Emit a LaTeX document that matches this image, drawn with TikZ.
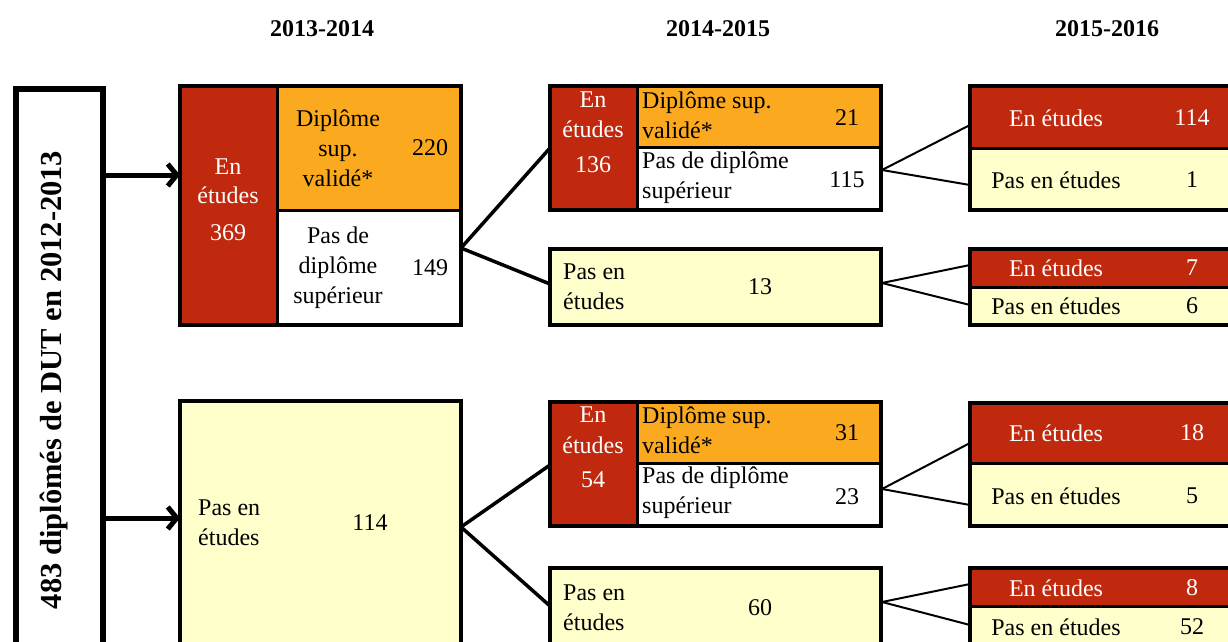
\documentclass[tikz,border=0pt]{standalone}
\usepackage{fontspec}
\setmainfont{Liberation Serif}
\usetikzlibrary{arrows.meta}
\definecolor{cred}{RGB}{192,41,14}
\definecolor{corange}{RGB}{251,170,31}
\definecolor{cyellow}{RGB}{255,255,204}
\begin{document}
\begin{tikzpicture}[x=1pt,y=-1pt,
  cell/.style={draw, line width=3pt, anchor=north west, inner sep=0pt, outer sep=0pt},
  frame/.style={draw, line width=4pt},
  txt/.style={inner sep=0pt, font=\fontsize{24}{30}\selectfont, align=center},
  ltxt/.style={txt, anchor=west, align=left},
  wtxt/.style={txt, text=white},
  hdr/.style={inner sep=0pt, font=\bfseries\fontsize{24}{28}\selectfont},
  arr/.style={line width=5pt, -{Straight Barb[length=9pt,width=22pt]}},
  fanA/.style={line width=3.5pt},
  fanB/.style={line width=2pt}]
\path[use as bounding box] (0,0) rectangle (1228,642);
\clip (0,0) rectangle (1228,642);

% headers
\node[hdr] (h1) at (322,29) {2013-2014};
\node[hdr] (h2) at (718,29) {2014-2015};
\node[hdr] (h3) at (1107,29) {2015-2016};

% left box
\node[draw, line width=6pt, anchor=north west, minimum width=87pt, minimum height=640pt, inner sep=0pt] (L) at (13,86) {};
\node[inner sep=0pt, rotate=90, font=\bfseries\fontsize{30.5}{34}\selectfont] (Lt) at (54,380) {483 diplômés de DUT en 2012-2013};

% ---- 2013-2014 top : A
\node[cell, fill=cred, minimum width=97pt, minimum height=239pt] (Ar) at (180,86) {};
\node[cell, fill=corange, minimum width=184pt, minimum height=124pt] (Ao) at (277,86) {};
\node[cell, fill=white, minimum width=184pt, minimum height=115pt] (Aw) at (277,210) {};
\draw[frame] (Ar.north west) rectangle (Aw.south east);
\node[wtxt] (Ar1) at (228,167) {En};
\node[wtxt] (Ar2) at (228,195) {études};
\node[wtxt] (Ar3) at (228,233) {369};
\node[txt] (Ao1) at (338,148) {Diplôme\\sup.\\validé*};
\node[txt] (Ao2) at (430,148) {220};
\node[txt] (Aw1) at (338,268) {Pas de\\diplôme\\supérieur};
\node[txt] (Aw2) at (430,268) {149};

% ---- 2013-2014 bottom : D
\node[cell, fill=cyellow, minimum width=281pt, minimum height=320pt] (D) at (180,401) {};
\draw[frame] (D.north west) rectangle (D.south east);
\node[ltxt] (D1) at (198,523) {Pas en\\études};
\node[txt] (D2) at (370,523) {114};

% ---- 2014-2015 : B1
\node[cell, fill=cred, minimum width=87pt, minimum height=124pt] (B1r) at (550,86) {};
\node[cell, fill=corange, minimum width=244pt, minimum height=61pt] (B1o) at (637,86) {};
\node[cell, fill=white, minimum width=244pt, minimum height=63pt] (B1w) at (637,147) {};
\draw[frame] (B1r.north west) rectangle (B1w.south east);
\node[wtxt] (B1r1) at (593,100) {En};
\node[wtxt] (B1r2) at (593,129) {études};
\node[wtxt] (B1r3) at (593,165) {136};
\node[ltxt] (B1o1) at (642,115) {Diplôme sup.\\validé*};
\node[txt] (B1o2) at (847,118) {21};
\node[ltxt] (B1w1) at (642,178) {Pas de diplôme\\supérieur};
\node[txt] (B1w2) at (847,180) {115};

% B2
\node[cell, fill=cyellow, minimum width=331pt, minimum height=76pt] (B2) at (550,249) {};
\draw[frame] (B2.north west) rectangle (B2.south east);
\node[ltxt] (B21) at (563,287) {Pas en\\études};
\node[txt] (B22) at (760,287) {13};

% E1
\node[cell, fill=cred, minimum width=87pt, minimum height=124pt] (E1r) at (550,402) {};
\node[cell, fill=corange, minimum width=244pt, minimum height=61pt] (E1o) at (637,402) {};
\node[cell, fill=white, minimum width=244pt, minimum height=63pt] (E1w) at (637,463) {};
\draw[frame] (E1r.north west) rectangle (E1w.south east);
\node[wtxt] (E1r1) at (593,415) {En};
\node[wtxt] (E1r2) at (593,445) {études};
\node[wtxt] (E1r3) at (593,480) {54};
\node[ltxt] (E1o1) at (642,430) {Diplôme sup.\\validé*};
\node[txt] (E1o2) at (847,433) {31};
\node[ltxt] (E1w1) at (642,493) {Pas de diplôme\\supérieur};
\node[txt] (E1w2) at (847,497) {23};

% E2
\node[cell, fill=cyellow, minimum width=331pt, minimum height=140pt] (E2) at (550,568) {};
\draw[frame] (E2.north west) rectangle (E2.south east);
\node[ltxt] (E21) at (563,608) {Pas en\\études};
\node[txt] (E22) at (760,608) {60};

% ---- 2015-2016 : C1, C2, F1, F2
\node[cell, fill=cred, minimum width=280pt, minimum height=62pt] (C1r) at (970,86) {};
\node[cell, fill=cyellow, minimum width=280pt, minimum height=62pt] (C1y) at (970,148) {};
\draw[frame] (C1r.north west) rectangle (C1y.south east);
\node[wtxt] (C1r1) at (1056,118) {En études};
\node[wtxt] (C1r2) at (1192,118) {114};
\node[txt] (C1y1) at (1056,180) {Pas en études};
\node[txt] (C1y2) at (1192,180) {1};

\node[cell, fill=cred, minimum width=280pt, minimum height=38pt] (C2r) at (970,249) {};
\node[cell, fill=cyellow, minimum width=280pt, minimum height=38pt] (C2y) at (970,287) {};
\draw[frame] (C2r.north west) rectangle (C2y.south east);
\node[wtxt] (C2r1) at (1056,268) {En études};
\node[wtxt] (C2r2) at (1192,268) {7};
\node[txt] (C2y1) at (1056,306) {Pas en études};
\node[txt] (C2y2) at (1192,306) {6};

\node[cell, fill=cred, minimum width=280pt, minimum height=60pt] (F1r) at (970,403) {};
\node[cell, fill=cyellow, minimum width=280pt, minimum height=63pt] (F1y) at (970,463) {};
\draw[frame] (F1r.north west) rectangle (F1y.south east);
\node[wtxt] (F1r1) at (1056,433) {En études};
\node[wtxt] (F1r2) at (1192,433) {18};
\node[txt] (F1y1) at (1056,496) {Pas en études};
\node[txt] (F1y2) at (1192,496) {5};

\node[cell, fill=cred, minimum width=280pt, minimum height=38pt] (F2r) at (970,568) {};
\node[cell, fill=cyellow, minimum width=280pt, minimum height=100pt] (F2y) at (970,606) {};
\draw[frame] (F2r.north west) rectangle (F2y.south east);
\node[wtxt] (F2r1) at (1056,588) {En études};
\node[wtxt] (F2r2) at (1192,588) {8};
\node[txt] (F2y1) at (1056,627) {Pas en études};
\node[txt] (F2y2) at (1192,627) {52};

% ---- connectors
\coordinate (a1) at (100,175);
\coordinate (a2) at (100,518);
\draw[arr] (a1) -- (a1 -| Ar.west);
\draw[arr] (a2) -- (a2 -| D.west);

\coordinate (tA) at (461,248);
\coordinate (tD) at (461,527);
\draw[fanA] (tA) -- (550,148) coordinate (eB1);
\draw[fanA] (tA) -- (550,284) coordinate (eB2);
\draw[fanA] (tD) -- (550,465) coordinate (eE1);
\draw[fanA] (tD) -- (550,606) coordinate (eE2);

\coordinate (tB1) at (882,170);
\coordinate (tB2) at (882,283);
\coordinate (tE1) at (882,489);
\coordinate (tE2) at (882,602);
\draw[fanB] (tB1) -- (970,125) coordinate (eC1a);
\draw[fanB] (tB1) -- (970,185) coordinate (eC1b);
\draw[fanB] (tB2) -- (970,265) coordinate (eC2a);
\draw[fanB] (tB2) -- (970,305) coordinate (eC2b);
\draw[fanB] (tE1) -- (970,443) coordinate (eF1a);
\draw[fanB] (tE1) -- (970,505) coordinate (eF1b);
\draw[fanB] (tE2) -- (970,584) coordinate (eF2a);
\draw[fanB] (tE2) -- (970,625) coordinate (eF2b);
\end{tikzpicture}
\end{document}
